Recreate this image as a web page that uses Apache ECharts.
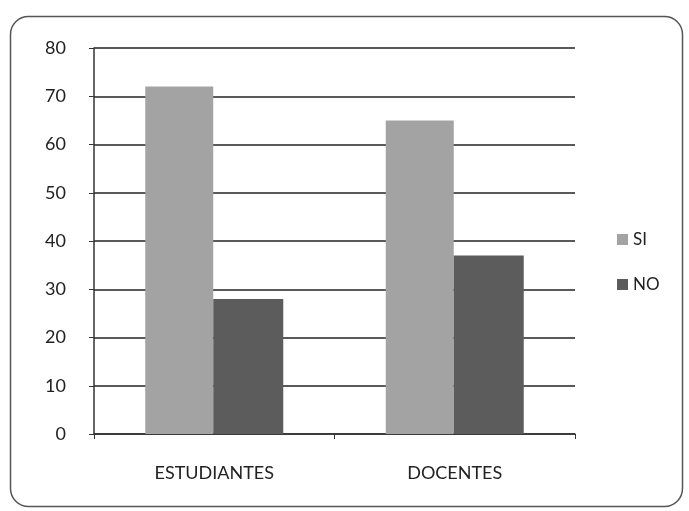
<!DOCTYPE html>
<html><head><meta charset="utf-8">
<script src="https://cdn.jsdelivr.net/npm/echarts@6/dist/echarts.min.js"></script>
<style>html,body{margin:0;padding:0;background:#fff}#c{width:689px;height:511px}</style>
</head><body><div id="c"></div>
<script>
var categories = ['ESTUDIANTES', 'DOCENTES'];
var seriesNames = ['SI', 'NO'];
var siValues = [72, 65];
var noValues = [28, 37];
var yTicks = [0, 10, 20, 30, 40, 50, 60, 70, 80];

var chart = echarts.init(document.getElementById('c'));
var font = 'Lato, "Open Sans", sans-serif';
chart.setOption({
  animation: false,
  backgroundColor: '#fff',
  graphic: [{
    type: 'rect', left: 8, top: 14,
    shape: { width: 672, height: 490, r: 18 },
    style: { fill: 'none', stroke: '#555', lineWidth: 1.5 }
  }],
  grid: { left: 94, right: 114, top: 48, bottom: 77 },
  legend: {
    orient: 'vertical', left: 612, top: 226, itemGap: 28,
    itemWidth: 11, itemHeight: 11, icon: 'rect',
    textStyle: { fontFamily: font, fontSize: 17, color: '#222' },
    data: seriesNames
  },
  xAxis: {
    type: 'category', data: categories,
    axisLine: { lineStyle: { color: '#333', width: 1.5 } },
    axisTick: { show: true, length: 5, lineStyle: { color: '#333' } },
    axisLabel: { fontFamily: font, fontSize: 18, color: '#222', margin: 30 }
  },
  yAxis: {
    type: 'value', min: yTicks[0], max: yTicks[yTicks.length - 1], interval: 10,
    axisLine: { show: true, lineStyle: { color: '#333', width: 1.5 } },
    axisTick: { show: true, inside: false, length: 5, lineStyle: { color: '#333' } },
    axisLabel: { fontFamily: font, fontSize: 18, color: '#222', margin: 28 },
    splitLine: { lineStyle: { color: '#222', width: 1.5 } }
  },
  series: [
    { name: seriesNames[0], type: 'bar', data: siValues, barWidth: 68, barGap: '0%',
      itemStyle: { color: '#a3a3a3' } },
    { name: seriesNames[1], type: 'bar', data: noValues, barWidth: 70,
      itemStyle: { color: '#5c5c5c' } }
  ]
});
</script></body></html>
